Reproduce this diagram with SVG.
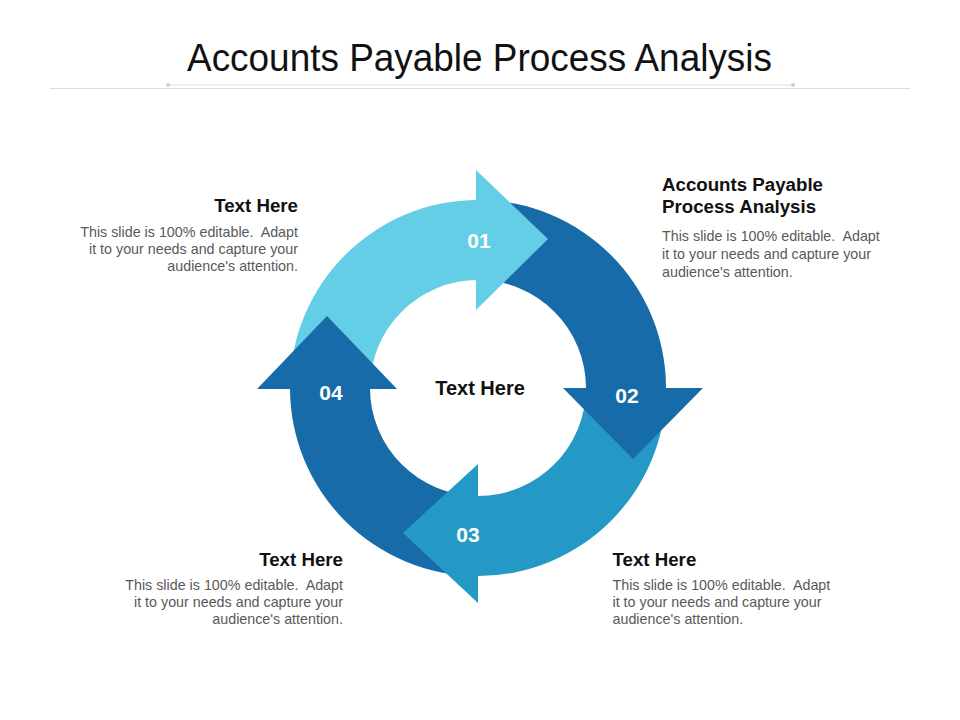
<svg xmlns="http://www.w3.org/2000/svg" width="960" height="720" viewBox="0 0 960 720">
  <style>
    .title { font-family: "Liberation Sans", Arial, sans-serif; font-size: 38px; fill: #111111; }
    .num { font-family: "Liberation Sans", Arial, sans-serif; font-size: 21px; font-weight: bold; fill: #ffffff; text-anchor: middle; }
    .center { font-family: "Liberation Sans", Arial, sans-serif; font-size: 20px; font-weight: bold; fill: #111111; text-anchor: middle; }
    .head { font-family: "Liberation Sans", Arial, sans-serif; font-size: 18.7px; font-weight: bold; fill: #111111; }
    .body { font-family: "Liberation Sans", Arial, sans-serif; font-size: 14.3px; fill: #595959; white-space: pre; }
    .r { text-anchor: end; }
    .light { fill: #63CEE5; }
    .dark { fill: #166BA8; }
    .mid { fill: #2599C6; }
  </style>
  <rect width="960" height="720" fill="#ffffff"/>

  <g id="title">
    <text class="title" x="187" y="71" textLength="585" lengthAdjust="spacingAndGlyphs">Accounts Payable Process Analysis</text>
    <line x1="50" y1="88.5" x2="910" y2="88.5" stroke="#dcdcdc" stroke-width="1"/>
    <line x1="168" y1="85" x2="793" y2="85" stroke="#dcdcdc" stroke-width="1"/>
    <circle cx="168" cy="85" r="2" fill="#d0d0d0"/>
    <circle cx="793" cy="85" r="2" fill="#d0d0d0"/>
  </g>

  <g id="connectors">
    <path class="light" d="M290,388 A188,188 0 0 1 478,200 L478,280 A108,108 0 0 0 370,388 Z"/>
    <path class="dark" d="M478,200 A188,188 0 0 1 666,388 L586,388 A108,108 0 0 0 478,280 Z"/>
    <path class="mid" d="M666,388 A188,188 0 0 1 478,576 L478,496 A108,108 0 0 0 586,388 Z"/>
    <path class="dark" d="M478,576 A188,188 0 0 1 290,388 L370,388 A108,108 0 0 0 478,496 Z"/>
  </g>

  <g id="node-01">
    <polygon class="light" points="476,170 548,239 476,310"/>
    <text class="num" x="479" y="248">01</text>
  </g>
  <g id="node-02">
    <polygon class="dark" points="563,388 703,388 633,459"/>
    <text class="num" x="627" y="402.5">02</text>
  </g>
  <g id="node-03">
    <polygon class="mid" points="478,464 403,533 478,603"/>
    <text class="num" x="468" y="541.5">03</text>
  </g>
  <g id="node-04">
    <polygon class="dark" points="257,389 397,389 327,316"/>
    <text class="num" x="331" y="399.5">04</text>
  </g>

  <g id="center-label">
    <text class="center" x="480" y="395">Text Here</text>
  </g>

  <g id="text-top-left">
    <text class="head r" x="298" y="212">Text Here</text>
    <text class="body r" x="298" y="236.5">This slide is 100% editable.  Adapt</text>
    <text class="body r" x="298" y="254">it to your needs and capture your</text>
    <text class="body r" x="298" y="271">audience's attention.</text>
  </g>

  <g id="text-top-right">
    <text class="head" x="662" y="191">Accounts Payable</text>
    <text class="head" x="662" y="212.5">Process Analysis</text>
    <text class="body" x="662" y="241">This slide is 100% editable.  Adapt</text>
    <text class="body" x="662" y="259">it to your needs and capture your</text>
    <text class="body" x="662" y="276.5">audience's attention.</text>
  </g>

  <g id="text-bottom-left">
    <text class="head r" x="343" y="566">Text Here</text>
    <text class="body r" x="343" y="589.5">This slide is 100% editable.  Adapt</text>
    <text class="body r" x="343" y="606.7">it to your needs and capture your</text>
    <text class="body r" x="343" y="623.5">audience's attention.</text>
  </g>

  <g id="text-bottom-right">
    <text class="head" x="612.5" y="566">Text Here</text>
    <text class="body" x="612.5" y="589.5">This slide is 100% editable.  Adapt</text>
    <text class="body" x="612.5" y="606.7">it to your needs and capture your</text>
    <text class="body" x="612.5" y="623.5">audience's attention.</text>
  </g>
</svg>
